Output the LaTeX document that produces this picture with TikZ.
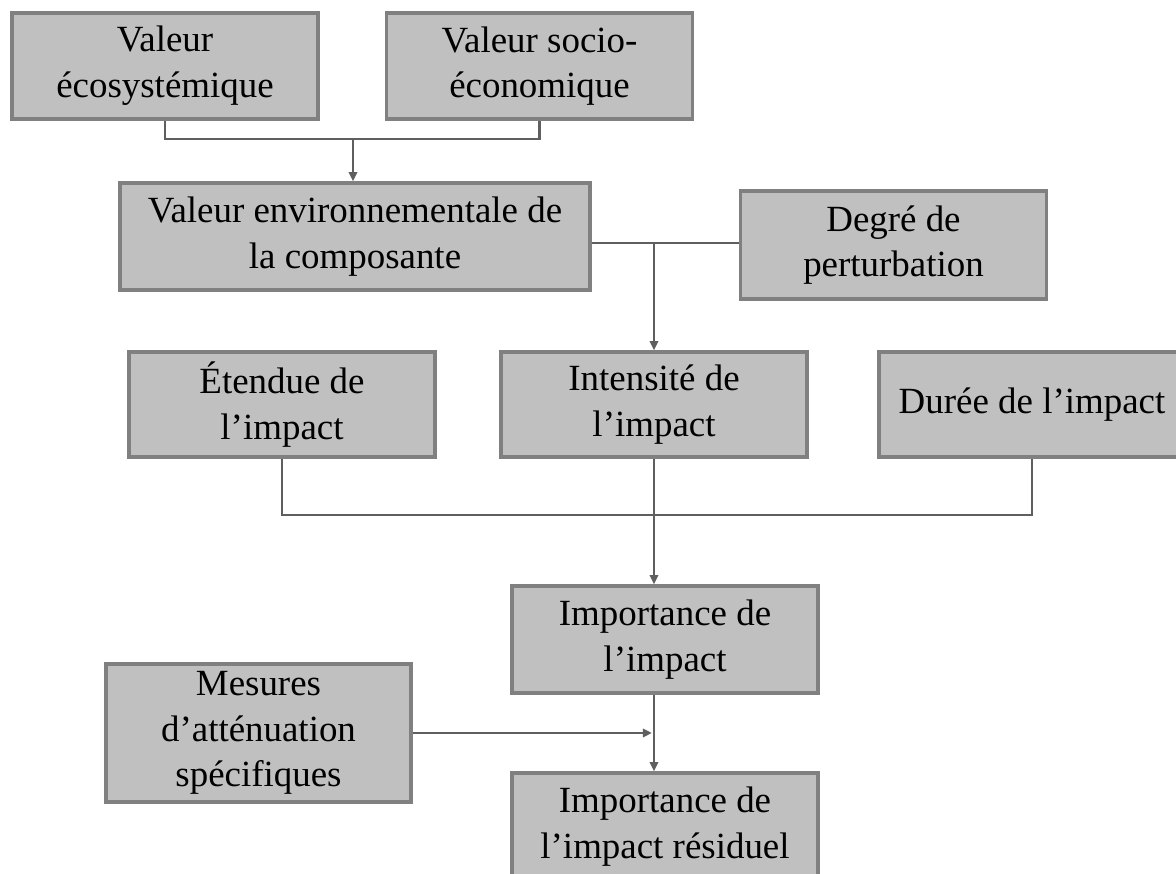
\documentclass[tikz,border=0pt]{standalone}
\usepackage{fontspec}
\setmainfont{Liberation Serif}
\usepackage{tikz}
\usetikzlibrary{arrows.meta, calc}
\definecolor{boxgray}{RGB}{192,192,192}
\definecolor{edgegray}{RGB}{128,128,128}
\definecolor{linegray}{RGB}{95,95,95}

\begin{document}
\begin{tikzpicture}[x=0.01cm, y=-0.01cm,
  box/.style={draw=edgegray, fill=boxgray, line width=1pt, align=center,
    inner sep=0pt, minimum width=3.06cm, minimum height=1.06cm,
    font=\fontsize{10.5}{13}\selectfont},
  link/.style={draw=linegray, line width=0.6pt},
  arr/.style={link, -{Triangle[length=2.6pt, width=2.4pt]}}]
  \useasboundingbox (0,0) rectangle (1176,874);
  \clip (0,0) rectangle (1176,874);

  % Values
  \node[box] (eco) at (165,66) {Valeur\\écosystémique};
  \node[box] (socio) at (539.5,66) {Valeur socio-\\économique};
  \node[box, minimum width=4.7cm, minimum height=1.07cm] (env) at (355,236.5)
    {Valeur environnementale de\\la composante};
  \node[box, minimum height=1.08cm] (deg) at (893.5,245) {Degré de\\perturbation};

  % Criteria
  \node[box, minimum height=1.05cm] (etendue) at (282,404.5) {Étendue de\\l’impact};
  \node[box, minimum height=1.05cm] (intens) at (654,404.5) {Intensité de\\l’impact};
  \node[box, minimum height=1.05cm] (duree) at (1032,404.5) {Durée de l’impact};

  % Importance
  \node[box, minimum height=1.07cm] (import) at (665,639.5) {Importance de\\l’impact};
  \node[box, minimum width=3.05cm, minimum height=1.38cm] (mesures) at (258.5,733)
    {Mesures\\d’atténuation\\spécifiques};
  \node[box, minimum height=1.07cm] (resid) at (665,826.5) {Importance de\\l’impact résiduel};

  % Connectors
  \coordinate (join1) at (353,139);
  \draw[link] (eco.south) |- (join1) -| (socio.south);
  \draw[arr] (join1) -- (join1 |- env.north);

  \coordinate (join2) at (intens.north |- 0,243);
  \draw[link] (join2 -| env.east) -- (join2 -| deg.west);
  \draw[arr] (join2) -- (intens.north);

  \coordinate (join3) at (intens.south |- 0,515);
  \draw[link] (etendue.south) |- (join3) -| (duree.south);
  \draw[arr] (intens.south) -- (intens.south |- import.north);

  \coordinate (join4) at (intens.south |- import.south);
  \draw[arr] (join4) -- (join4 |- resid.north);
  \draw[arr, shorten >=0.6pt] (mesures.east) -- (mesures.east -| join4);
\end{tikzpicture}
\end{document}
